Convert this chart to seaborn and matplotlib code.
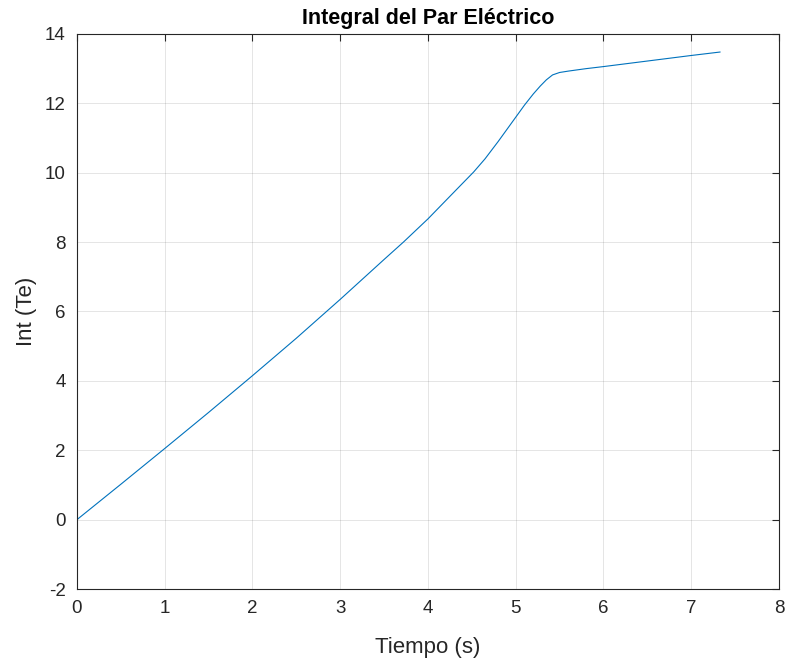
import numpy as np
import pandas as pd
import seaborn as sns
import matplotlib
matplotlib.use('Agg')
import matplotlib.pyplot as plt

# values
tiempo = [0, 0.5, 1, 1.5, 2, 2.5, 3, 3.5, 3.72, 4, 4.25, 4.52, 4.65, 4.8,
          5.0, 5.1, 5.2, 5.28, 5.35, 5.42, 5.5, 5.6, 5.8, 6.0, 6.5, 7.0, 7.33]
int_te = [0, 1.02, 2.05, 3.09, 4.15, 5.23, 6.35, 7.5, 8.0, 8.67, 9.32, 10.02,
          10.4, 10.9, 11.6, 11.95, 12.27, 12.5, 12.68, 12.82, 12.89, 12.93,
          13.0, 13.06, 13.22, 13.38, 13.48]
x_ticks = [0, 1, 2, 3, 4, 5, 6, 7, 8]
y_ticks = [-2, 0, 2, 4, 6, 8, 10, 12, 14]

df = pd.DataFrame({'Tiempo': tiempo, 'Int': int_te})

sns.set_style('white')
plt.rcParams['font.family'] = ['Liberation Sans', 'DejaVu Sans']
plt.rcParams['axes.unicode_minus'] = False

fig = plt.figure(figsize=(7.87, 6.61), dpi=100)
ax = fig.add_axes([0.0978, 0.1089, 0.892, 0.8397])

sns.lineplot(data=df, x='Tiempo', y='Int', ax=ax, color='#0072BD', linewidth=0.8)

ax.set_xlim(0, 8)
ax.set_ylim(-2, 14)
ax.set_xticks(x_ticks)
ax.set_yticks(y_ticks)
ax.grid(True, color='#262626', alpha=0.12, linewidth=0.7)
for s in ax.spines.values():
    s.set_color('#262626')
    s.set_linewidth(0.8)
ax.tick_params(direction='in', length=5, width=0.8, color='#262626',
               labelsize=13.5, labelcolor='#262626', top=True, right=True, pad=8)
ax.set_xlabel('Tiempo (s)', fontsize=16, color='#262626', labelpad=14)
ax.set_ylabel('Int (Te)', fontsize=16, color='#262626', labelpad=6)
ax.set_title('Integral del Par Eléctrico', fontsize=15.5, fontweight='bold',
             color='black', pad=7)

fig.savefig('out.png', dpi=100)
